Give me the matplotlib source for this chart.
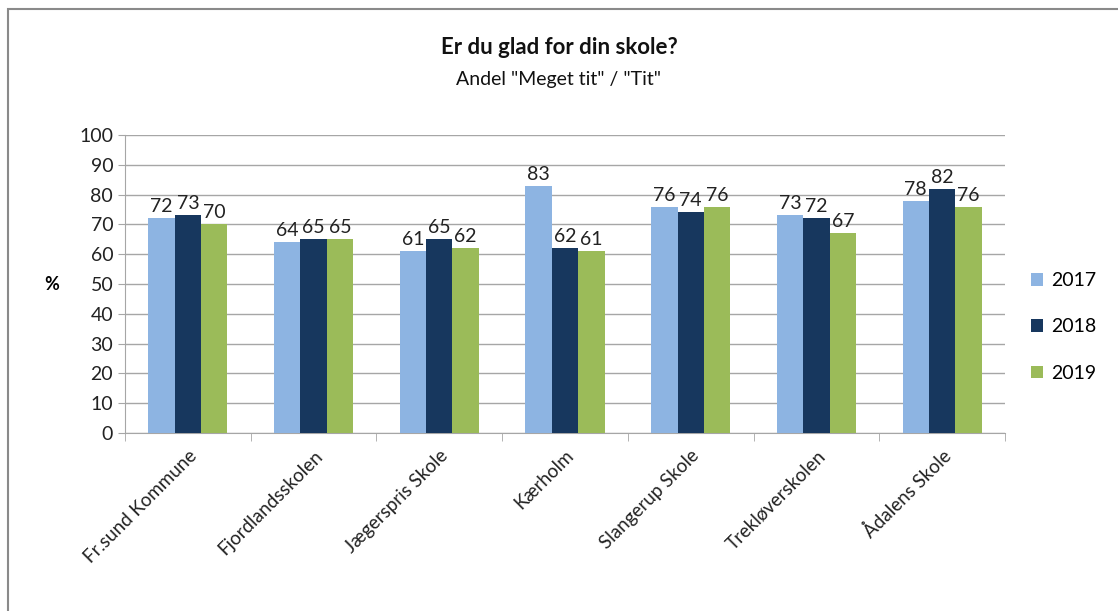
import numpy as np
import matplotlib.pyplot as plt

categories = ['Fr.sund Kommune', 'Fjordlandsskolen', 'Jægerspris Skole', 'Kærholm',
              'Slangerup Skole', 'Trekløverskolen', 'Ådalens Skole']
years = ['2017', '2018', '2019']
v2017 = [72, 64, 61, 83, 76, 73, 78]
v2018 = [73, 65, 65, 62, 74, 72, 82]
v2019 = [70, 65, 62, 61, 76, 67, 76]
colors = ['#8DB4E2', '#17375E', '#9BBB59']

plt.rcParams['font.family'] = ['Lato', 'DejaVu Sans']

fig = plt.figure(figsize=(11.18, 6.11), dpi=100)
# outer border like the chart frame
fig.patches.append(plt.Rectangle((8 / 1118, -0.01), 1.1, 1 - 9 / 611 + 0.01,
                                 transform=fig.transFigure, fill=False,
                                 edgecolor='#8a8a8a', linewidth=1.5))

ax = fig.add_axes([125 / 1118, 1 - 433 / 611, (1005 - 125) / 1118, (433 - 135) / 611])

x = np.arange(len(categories))
w = 0.21
for i, (vals, yr) in enumerate(zip([v2017, v2018, v2019], years)):
    bars = ax.bar(x + (i - 1) * w, vals, w, color=colors[i], label=yr, zorder=3)
    for b, v in zip(bars, vals):
        ax.text(b.get_x() + b.get_width() / 2, v + 1, str(v), ha='center', va='bottom',
                fontsize=14, color='#222222')

ax.set_xlim(-0.5, len(categories) - 0.5)
ax.set_ylim(0, 100)
ax.set_yticks(range(0, 101, 10))
ax.yaxis.grid(True, color='#a6a6a6', linewidth=1, zorder=0)
ax.tick_params(axis='y', labelsize=14, colors='#222222', length=5, color='#a6a6a6')
ax.set_xticks(x)
ax.set_xticklabels(categories, rotation=45, ha='right', rotation_mode='anchor',
                   fontsize=13.5, color='#222222')
ax.tick_params(axis='x', length=0, pad=10)
ax.set_xticks(np.arange(-0.5, len(categories)), minor=True)
ax.tick_params(axis='x', which='minor', length=6, color='#a6a6a6')
for s in ['top', 'right']:
    ax.spines[s].set_visible(False)
ax.spines['left'].set_color('#a6a6a6')
ax.spines['bottom'].set_color('#a6a6a6')
ax.set_ylabel('%', rotation=0, fontsize=13, fontweight='bold', labelpad=20, va='center')

fig.text(0.5, 1 - 48 / 611, 'Er du glad for din skole?', ha='center', va='center',
         fontsize=16, fontweight='bold', color='#111111')
fig.text(0.5, 1 - 79 / 611, 'Andel "Meget tit" / "Tit"', ha='center', va='center',
         fontsize=14, color='#111111')

ax.legend(loc='center left', bbox_to_anchor=(1.01, 0.356), frameon=False, fontsize=14,
          handlelength=0.6, handleheight=0.6, labelspacing=1.5, handletextpad=0.4)

fig.savefig('out.png', dpi=100)
